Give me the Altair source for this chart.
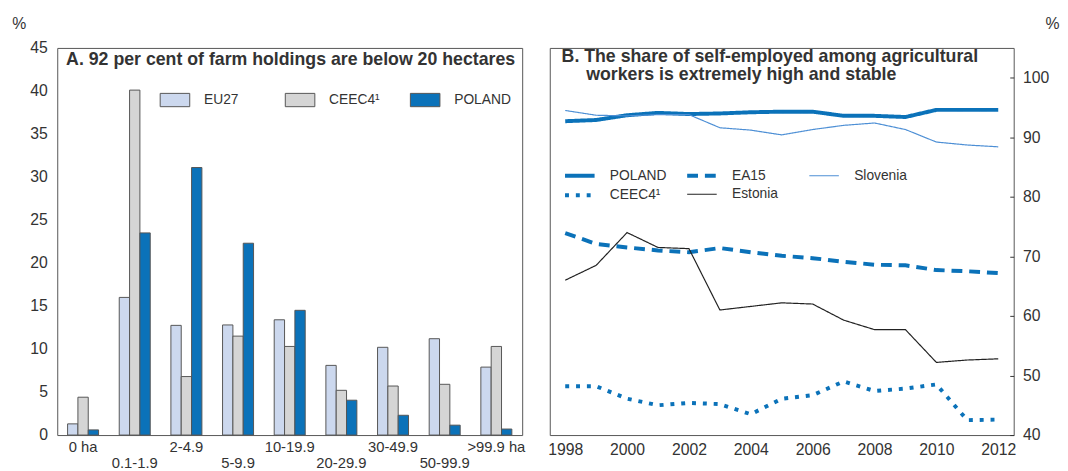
import altair as alt
import pandas as pd

# ---------------- Panel A data ----------------
size_classes = ["0 ha", "0.1-1.9", "2-4.9", "5-9.9", "10-19.9",
                "20-29.9", "30-49.9", "50-99.9", ">99.9 ha"]
bar_series = ["EU27", "CEEC4\u00b9", "POLAND"]
eu27 = [1.3, 16.0, 12.75, 12.8, 13.4, 8.1, 10.2, 11.2, 7.9]
ceec4 = [4.4, 40.1, 6.8, 11.5, 10.3, 5.2, 5.7, 5.9, 10.3]
poland = [0.6, 23.5, 31.1, 22.3, 14.5, 4.05, 2.3, 1.15, 0.7]
a_ticks = [0, 5, 10, 15, 20, 25, 30, 35, 40, 45]

# ---------------- Panel B data ----------------
years = [1998, 1999, 2000, 2001, 2002, 2003, 2004, 2005,
         2006, 2007, 2008, 2009, 2010, 2011, 2012]
line_series = ["POLAND", "EA15", "Slovenia", "CEEC4\u00b9", "Estonia"]
poland_se = [92.7, 92.9, 93.7, 94.1, 93.9, 94.0, 94.2, 94.3, 94.3, 93.6, 93.6, 93.4, 94.6, 94.6, 94.6]
ea15_se = [73.9, 72.1, 71.5, 71.0, 70.7, 71.4, 70.7, 70.1, 69.7, 69.1, 68.6, 68.5, 67.7, 67.5, 67.2]
slovenia_se = [94.5, 93.7, 93.6, 93.8, 93.8, 91.6, 91.2, 90.4, 91.3, 92.0, 92.4, 91.3, 89.2, 88.7, 88.4]
ceec4_se = [48.2, 48.2, 46.1, 45.0, 45.4, 45.2, 43.5, 46.1, 46.7, 49.0, 47.4, 47.8, 48.5, 42.5, 42.6]
estonia_se = [66.0, 68.5, 74.0, 71.5, 71.3, 61.0, 61.6, 62.2, 62.0, 59.3, 57.7, 57.7, 52.2, 52.6, 52.8]
b_ticks = [40, 50, 60, 70, 80, 90, 100]
year_marks = [1998 + 0.5 * i for i in range(29)]

FONT = "Liberation Sans"
TXT = "#333333"
BLUE = "#0B72B9"

# ---------------- Panel A ----------------
rows = []
for s, vals in zip(bar_series, [eu27, ceec4, poland]):
    for c, v in zip(size_classes, vals):
        rows.append({"size": c, "holding": s, "value": v})
df_a = pd.DataFrame(rows)

second_row = [size_classes[i] for i in range(1, len(size_classes), 2)]
test_second = "indexof(" + str(second_row).replace('"', "'") + ", datum.value) >= 0"

panel_a = alt.Chart(df_a).mark_bar(stroke="#555555", strokeWidth=1).encode(
    x=alt.X("size:N", sort=size_classes,
            scale=alt.Scale(paddingInner=0.4, paddingOuter=0.2),
            axis=alt.Axis(title=None, labelAngle=0, ticks=False, tickSize=0, domain=False,
                          labelFontSize=15, labelFont=FONT, labelColor=TXT,
                          labelOverlap=False,
                          labelPadding={"condition": {"test": test_second, "value": 21}, "value": 5})),
    xOffset=alt.XOffset("holding:N", sort=bar_series),
    y=alt.Y("value:Q", scale=alt.Scale(domain=[0, 45], nice=False),
            axis=alt.Axis(values=a_ticks, grid=False, ticks=False, tickSize=0, domain=False,
                          labelFontSize=16, labelFont=FONT, labelColor=TXT, labelPadding=10,
                          title="%", titleAngle=0, titleX=-39, titleY=-25,
                          titleAlign="center", titleBaseline="middle",
                          titleFontSize=16, titleFontWeight="normal", titleFont=FONT,
                          titleColor=TXT)),
    color=alt.Color("holding:N",
                    scale=alt.Scale(domain=bar_series, range=["#CCD8EE", "#D5D5D5", BLUE]),
                    legend=alt.Legend(title=None, orient="none", legendX=104, legendY=37,
                                      direction="horizontal", columns=3, gridAlign="all",
                                      columnPadding=22, padding=0,
                                      symbolType="M-1,-0.45H1V0.45H-1Z", symbolSize=900,
                                      symbolStrokeColor="#555555", symbolStrokeWidth=1,
                                      symbolOpacity=1,
                                      labelFontSize=14, labelFont=FONT, labelColor=TXT,
                                      labelOffset=14)),
).properties(
    width=472, height=393,
    title=alt.TitleParams(
        text="A. 92 per cent of farm holdings are below 20 hectares",
        anchor="start", frame="group", offset=0, dx=9, dy=54,
        fontSize=18, fontWeight="bold", font=FONT, color=TXT),
)

# ---------------- Panel B ----------------
rows = []
for s, vals in zip(line_series, [poland_se, ea15_se, slovenia_se, ceec4_se, estonia_se]):
    for y, v in zip(years, vals):
        rows.append({"year": y, "country": s, "value": v})
df_b = pd.DataFrame(rows)

leg_b = dict(title=None, orient="none", legendX=21, legendY=120,
             direction="horizontal", columns=3, gridAlign="all",
             columnPadding=12, rowPadding=2, padding=0,
             symbolType="M-2,0H2", symbolSize=225,
             labelFontSize=14, labelFont=FONT, labelColor=TXT, labelOffset=21)

panel_b = alt.Chart(df_b).mark_line(strokeCap="butt", strokeJoin="miter").encode(
    x=alt.X("year:Q", scale=alt.Scale(domain=[1997.5, 2012.5], nice=False, zero=False),
            axis=alt.Axis(title=None, values=year_marks, format="d", grid=False,
                          domain=False, offset=-5, ticks=True, tickSize=5, tickWidth=1,
                          tickColor="#333333",
                          tickOpacity={"condition": {"test": "datum.value % 1 == 0", "value": 0}, "value": 1},
                          labelExpr="datum.value % 2 == 0 ? datum.label : ''",
                          labelOverlap=False, labelFlush=False, labelPadding=7,
                          labelFontSize=16, labelFont=FONT, labelColor=TXT)),
    y=alt.Y("value:Q", scale=alt.Scale(domain=[40, 105], nice=False, zero=False),
            axis=alt.Axis(orient="right", values=b_ticks, grid=False, domain=False,
                          offset=-4, ticks=True, tickSize=4, tickWidth=1, tickColor="#333333",
                          labelPadding=9, labelFontSize=16, labelFont=FONT, labelColor=TXT,
                          title="%", titleAngle=0, titleX=43, titleY=-25,
                          titleAlign="center", titleBaseline="middle",
                          titleFontSize=16, titleFontWeight="normal", titleFont=FONT,
                          titleColor=TXT)),
    color=alt.Color("country:N", sort=line_series,
                    scale=alt.Scale(domain=line_series,
                                    range=[BLUE, BLUE, "#4D8FD5", BLUE, "#222222"]),
                    legend=alt.Legend(**leg_b)),
    strokeDash=alt.StrokeDash("country:N", sort=line_series,
                              scale=alt.Scale(domain=line_series,
                                              range=[[1, 0], [11, 7], [1, 0], [4, 7], [1, 0]]),
                              legend=alt.Legend(**leg_b)),
    strokeWidth=alt.StrokeWidth("country:N", sort=line_series,
                                scale=alt.Scale(type="ordinal", domain=line_series,
                                                range=[4, 4, 1.2, 4, 1.2]),
                                legend=alt.Legend(**leg_b)),
).properties(
    width=471, height=393,
    title=alt.TitleParams(
        text=["B. The share of self-employed among agricultural",
              "\u200b\u00a0\u00a0\u00a0\u00a0\u00a0workers is extremely high and stable"],
        anchor="start", frame="group", offset=0, dx=12, dy=70, lineHeight=19,
        fontSize=18, fontWeight="bold", font=FONT, color=TXT),
)

chart = alt.hconcat(panel_a, panel_b, spacing=21).resolve_scale(
    color="independent", strokeDash="independent", strokeWidth="independent"
).resolve_legend(
    color="independent", strokeDash="independent", strokeWidth="independent"
).properties(
    padding={"left": 3, "top": 3, "right": 0, "bottom": 0}
).configure(
    background="white"
).configure_view(
    stroke="#555555", strokeWidth=1
)

chart.save("out.html", embed_options={"renderer": "svg", "actions": False})
